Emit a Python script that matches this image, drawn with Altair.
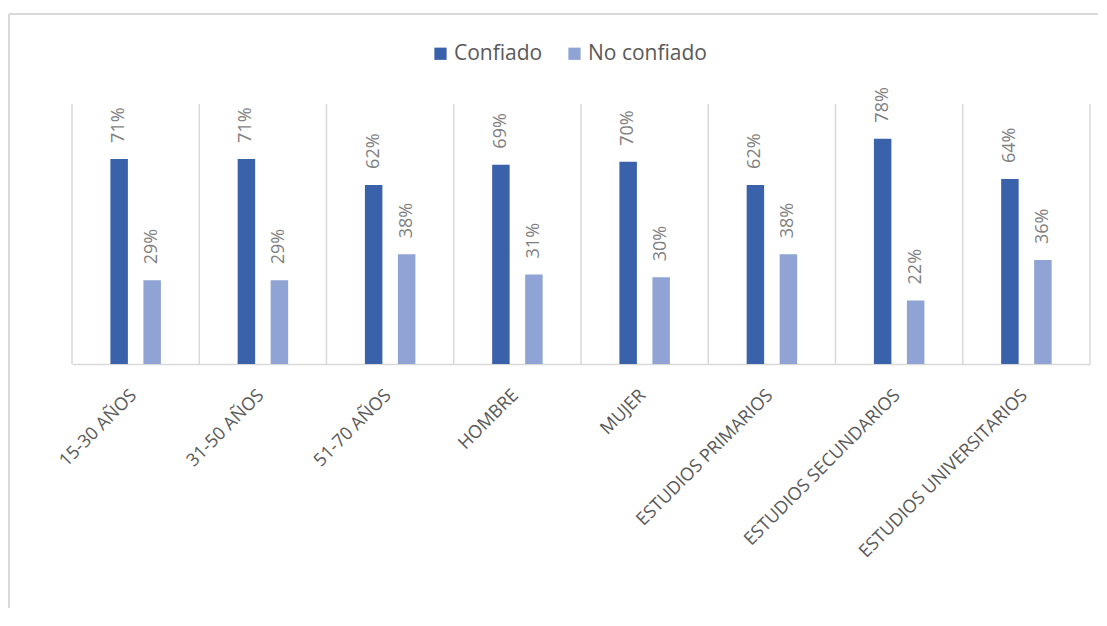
import altair as alt
import pandas as pd

categories = ["15-30 AÑOS", "31-50 AÑOS", "51-70 AÑOS", "HOMBRE", "MUJER",
              "ESTUDIOS PRIMARIOS", "ESTUDIOS SECUNDARIOS", "ESTUDIOS UNIVERSITARIOS"]
series = ["Confiado", "No confiado"]
confiado = [0.71, 0.71, 0.62, 0.69, 0.70, 0.62, 0.78, 0.64]
no_confiado = [0.29, 0.29, 0.38, 0.31, 0.30, 0.38, 0.22, 0.36]
colors = ["#3A62AB", "#8FA4D4"]

rows = []
for c, a, b in zip(categories, confiado, no_confiado):
    rows.append({"cat": c, "serie": series[0], "valor": a})
    rows.append({"cat": c, "serie": series[1], "valor": b})
df = pd.DataFrame(rows)

cat_df = pd.DataFrame({"cat": categories, "top": [0.9] * len(categories), "bot": [0.0] * len(categories)})
last_df = cat_df.tail(1)

W, H = 1018, 260
FONT = "Open Sans"

xscale = alt.Scale(domain=categories, paddingInner=0, paddingOuter=0)
yscale = alt.Scale(domain=[0, 0.9], nice=False, zero=True)
off_scale = alt.Scale(domain=series, range=[38.4, 88.9], paddingInner=0.47, paddingOuter=0)

x_axis = alt.Axis(title=None, labelAngle=315, labelAlign="right", labelBaseline="top",
                  labelPadding=22, labelOffset=-8, ticks=False, domainColor="#D9D9D9",
                  domainWidth=1.5, labelFont=FONT, labelFontSize=18, labelColor="#595959",
                  labelLimit=500, grid=False)

bars = alt.Chart(df).mark_bar().encode(
    x=alt.X("cat:N", scale=xscale, sort=categories, axis=x_axis),
    xOffset=alt.XOffset("serie:N", scale=off_scale, sort=series),
    y=alt.Y("valor:Q", scale=yscale, axis=None),
    color=alt.Color("serie:N", sort=series,
                    scale=alt.Scale(domain=series, range=colors),
                    legend=alt.Legend(title=None, orient="none", legendX=358, legendY=-61,
                                      direction="horizontal", labelFont=FONT, labelFontSize=21,
                                      labelColor="#595959", symbolType="square", symbolSize=150,
                                      symbolStrokeWidth=0, labelOffset=3, columnPadding=21)),
)

labels = alt.Chart(df).mark_text(angle=270, align="left", baseline="middle", dx=16,
                                 font=FONT, fontSize=18, color="#7F7F7F").encode(
    x=alt.X("cat:N", scale=xscale, sort=categories, axis=x_axis),
    xOffset=alt.XOffset("serie:N", scale=off_scale, sort=series),
    y=alt.Y("valor:Q", scale=yscale, axis=None),
    text=alt.Text("valor:Q", format=".0%"),
)

grid = alt.Chart(cat_df).mark_rule(color="#D9D9D9", strokeWidth=1.5).encode(
    x=alt.X("cat:N", scale=xscale, sort=categories, bandPosition=0, axis=x_axis),
    y=alt.Y("top:Q", scale=yscale, axis=None),
    y2="bot:Q",
)
grid_end = alt.Chart(last_df).mark_rule(color="#D9D9D9", strokeWidth=1.5).encode(
    x=alt.X("cat:N", scale=xscale, sort=categories, bandPosition=1, axis=x_axis),
    y=alt.Y("top:Q", scale=yscale, axis=None),
    y2="bot:Q",
)

border_top = alt.Chart(last_df).mark_rule(color="#D9D9D9", strokeWidth=2).encode(
    x=alt.value(-63), x2=alt.value(1100), y=alt.value(-90))
border_left = alt.Chart(last_df).mark_rule(color="#D9D9D9", strokeWidth=2).encode(
    x=alt.value(-63), y=alt.value(-90), y2=alt.value(600))

chart = alt.layer(bars, labels, grid, grid_end, border_top, border_left).properties(
    width=W, height=H,
    padding={"left": 64, "top": 96, "right": 8, "bottom": 244},
    autosize=alt.AutoSizeParams(type="none"),
    background="white",
).configure_view(stroke=None)

chart.save("out.html", embed_options={"renderer": "svg", "actions": False})
